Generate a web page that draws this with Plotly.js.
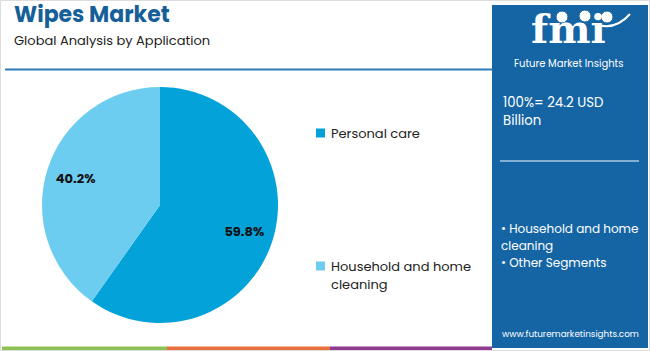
<!DOCTYPE html>
<html>
<head>
<meta charset="utf-8">
<script src="https://cdn.plot.ly/plotly-3.0.1.min.js"></script>
<style>
html,body{margin:0;padding:0;background:#fff;}
#chart{width:650px;height:351px;}
</style>
</head>
<body>
<div id="chart"></div>
<script>
// ---- data ----
const categories = ["Personal care", "Household and home cleaning"];
const legendLines = [["Personal care"], ["Household and home", "cleaning"]];
const shares = [59.8, 40.2];
const sliceColors = ["#03a3da", "#6dcdf1"];
const titleText = "Wipes Market";
const subtitleText = "Global Analysis by Application";
const totalLines = ["100%= 24.2 USD", "Billion"];
const segmentLines = ["• Household and home", "cleaning", "• Other Segments"];
const siteText = "www.futuremarketinsights.com";

const W = 650, H = 351;
const px = (x) => x / W;
const py = (y) => 1 - y / H;

const font = "Poppins, 'Open Sans', sans-serif";
const pieDomain = {x: [px(42), px(278)], y: [py(323), py(87)]};

// base pie (slices)
const pieTrace = {
  type: "pie",
  labels: categories,
  values: shares,
  sort: false,
  direction: "clockwise",
  rotation: 0,
  marker: {colors: sliceColors, line: {width: 0}},
  textinfo: "none",
  hoverinfo: "label+percent",
  showlegend: false,
  domain: pieDomain
};
// transparent ring carrying the percentage labels at 3/4 radius
const labelTrace = {
  type: "pie",
  labels: categories,
  values: shares,
  sort: false,
  direction: "clockwise",
  rotation: 0,
  hole: 0.5,
  marker: {colors: ["rgba(0,0,0,0)", "rgba(0,0,0,0)"], line: {width: 0}},
  texttemplate: "%{value:.1f}%",
  textposition: "inside",
  insidetextorientation: "horizontal",
  textfont: {family: font, size: 13, color: "#111111", weight: 700},
  hoverinfo: "skip",
  showlegend: false,
  domain: pieDomain
};

const shapes = [
  // outer border
  {type: "rect", x0: px(0.5), x1: px(649.5), y0: py(350.5), y1: py(0.5), line: {color: "#dddddd", width: 1}},
  // header rule
  {type: "line", x0: px(5), x1: px(492), y0: py(69.5), y1: py(69.5), line: {color: "#2f7bb8", width: 2}},
  // right panel
  {type: "rect", x0: px(492), x1: px(648), y0: py(348), y1: py(5), fillcolor: "#1565a5", line: {width: 0}},
  // panel rule
  {type: "line", x0: px(500), x1: px(639), y0: py(161), y1: py(161), line: {color: "#a9c8e2", width: 1.5}},
  // bottom colour bars
  {type: "rect", x0: px(2), x1: px(167), y0: py(350), y1: py(346.5), fillcolor: "#8dc153", line: {width: 0}},
  {type: "rect", x0: px(167), x1: px(330), y0: py(350), y1: py(346.5), fillcolor: "#e8703a", line: {width: 0}},
  {type: "rect", x0: px(330), x1: px(492), y0: py(350), y1: py(346.5), fillcolor: "#8e3b91", line: {width: 0}}
];

// legend squares (one per category)
const legendY = [133, 266];
categories.forEach((c, i) => {
  shapes.push({type: "rect",
    x0: px(316), x1: px(325), y0: py(legendY[i] + 4.5), y1: py(legendY[i] - 4.5),
    fillcolor: sliceColors[i], line: {width: 0}});
});

const annotations = [
  {text: "<b>" + titleText + "</b>", x: px(12), y: py(15), xanchor: "left", yanchor: "middle",
   font: {family: font, size: 22, color: "#175f98"}},
  {text: subtitleText, x: px(12), y: py(40), xanchor: "left", yanchor: "middle",
   font: {family: font, size: 13, color: "#222222"}},
  {text: siteText, x: px(570), y: py(334), xanchor: "center", yanchor: "middle",
   font: {family: font, size: 8.8, color: "#ffffff"}},
  {text: "<b>fmi</b>", x: px(568), y: py(29), xanchor: "center", yanchor: "middle",
   font: {family: "'DejaVu Serif', serif", size: 40, color: "#ffffff"}},
  {text: "Future Market Insights", x: px(568), y: py(63), xanchor: "center", yanchor: "middle",
   font: {family: font, size: 10, color: "#ffffff"}}
];

const totY = [102, 120];
totalLines.forEach((t, i) => {
  annotations.push({text: t, x: px(501), y: py(totY[i]), xanchor: "left", yanchor: "middle",
    font: {family: font, size: 13.3, color: "#ffffff"}});
});

const segY = [228, 245, 262];
segmentLines.forEach((t, i) => {
  annotations.push({text: t, x: px(499), y: py(segY[i]), xanchor: "left", yanchor: "middle",
    font: {family: font, size: 12, color: "#ffffff"}});
});

legendLines.forEach((lines, i) => {
  lines.forEach((t, j) => {
    annotations.push({text: t, x: px(329), y: py(legendY[i] + 18 * j), xanchor: "left", yanchor: "middle",
      font: {family: font, size: 13, color: "#222222"}});
  });
});

// logo stripes and icons
for (let y = 18; y <= 46; y += 3.5) {
  shapes.push({type: "line", x0: px(514), x1: px(624), y0: py(y), y1: py(y), line: {color: "#1565a5", width: 0.7}, layer: "above"});
}
[[562, 17], [585, 16], [607, 17]].forEach(([cx, cy]) => {
  shapes.push({type: "circle", x0: px(cx - 6), x1: px(cx + 6), y0: py(cy + 6), y1: py(cy - 6), fillcolor: "#ffffff", line: {color: "#1565a5", width: 1}, layer: "above"});
});
shapes.push({type: "path", path: "M " + px(598) + " " + py(25) + " Q " + px(616) + " " + py(30) + " " + px(630) + " " + py(14),
  line: {color: "#ffffff", width: 2}, layer: "above"});

shapes.forEach(s => { s.xref = "paper"; s.yref = "paper"; });
annotations.forEach(a => { a.xref = "paper"; a.yref = "paper"; a.showarrow = false; });

const layout = {
  width: W, height: H,
  margin: {l: 0, r: 0, t: 0, b: 0},
  paper_bgcolor: "#ffffff",
  showlegend: false,
  shapes: shapes,
  annotations: annotations
};

Plotly.newPlot("chart", [pieTrace, labelTrace], layout, {displayModeBar: false, staticPlot: true});
</script>
</body>
</html>
